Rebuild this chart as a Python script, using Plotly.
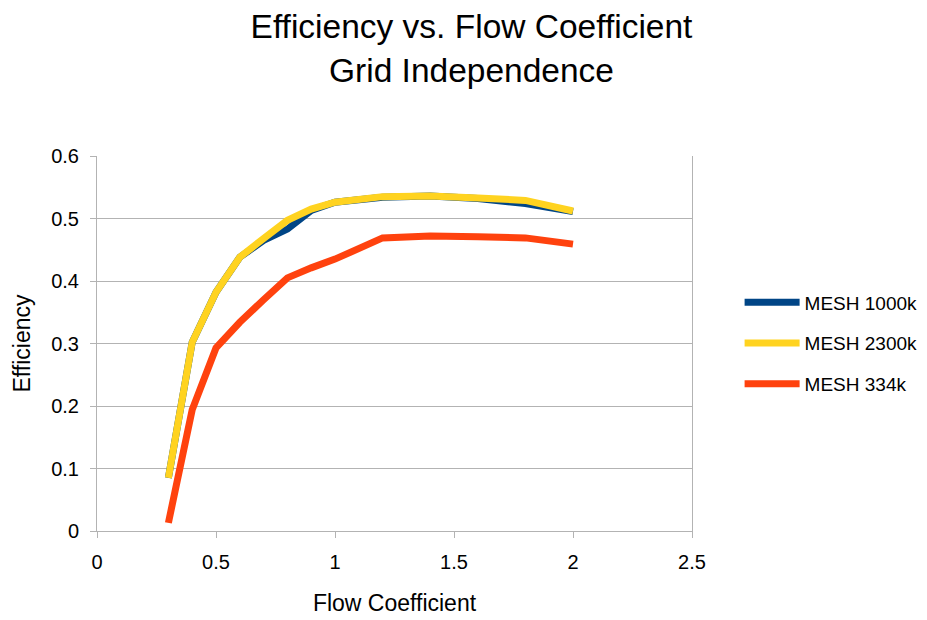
import plotly.graph_objects as go

flow = [0.3, 0.4, 0.5, 0.6, 0.7, 0.8, 0.9, 1.0, 1.2, 1.4, 1.6, 1.8, 2.0]
mesh_1000k = [0.085, 0.302, 0.382, 0.438, 0.465, 0.483, 0.513, 0.526, 0.534, 0.536, 0.532, 0.524, 0.511]
mesh_2300k = [0.085, 0.302, 0.382, 0.438, 0.468, 0.497, 0.515, 0.526, 0.535, 0.536, 0.533, 0.529, 0.512]
mesh_334k = [0.013, 0.194, 0.293, 0.334, 0.370, 0.405, 0.421, 0.435, 0.469, 0.472, 0.471, 0.469, 0.459]

series = [
    ("MESH 1000k", mesh_1000k, "#004586"),
    ("MESH 2300k", mesh_2300k, "#ffd320"),
    ("MESH 334k", mesh_334k, "#ff420e"),
]

fig = go.Figure()
for name, vals, color in series:
    fig.add_trace(go.Scatter(
        x=flow, y=vals, mode="lines", name=name, legendgroup=name,
        line=dict(color=color, width=7),
    ))

font = "Liberation Sans, Arial, sans-serif"
fig.update_layout(
    width=927, height=620,
    paper_bgcolor="white", plot_bgcolor="white",
    font=dict(family=font, size=20, color="black"),
    title=dict(
        text="Efficiency vs. Flow Coefficient<br>Grid Independence",
        x=0.5, xanchor="center", y=0.951, yanchor="middle",
        font=dict(size=33.5),
    ),
    margin=dict(l=89, r=233, t=148, b=97),
    showlegend=True,
    legend=dict(
        x=1.08, xanchor="left", y=0.5, yanchor="middle",
        font=dict(size=19), itemwidth=55, tracegroupgap=13,
    ),
    xaxis=dict(
        range=[0, 2.5], dtick=0.5, showgrid=False, zeroline=False,
        showline=True, linecolor="#b3b3b3", linewidth=1,
        ticks="outside", ticklen=6, tickcolor="#b3b3b3", ticklabelstandoff=7,
        title=dict(text="Flow Coefficient", font=dict(size=23), standoff=22),
    ),
    yaxis=dict(
        range=[0, 0.6], dtick=0.1, mirror=True,
        showgrid=True, gridcolor="#b3b3b3", gridwidth=1, zeroline=False,
        showline=True, linecolor="#b3b3b3", linewidth=1,
        ticks="outside", ticklen=6, tickcolor="#b3b3b3", ticklabelstandoff=7,
        title=dict(text="Efficiency", font=dict(size=23), standoff=14),
    ),
)

fig.write_html("out.html")
